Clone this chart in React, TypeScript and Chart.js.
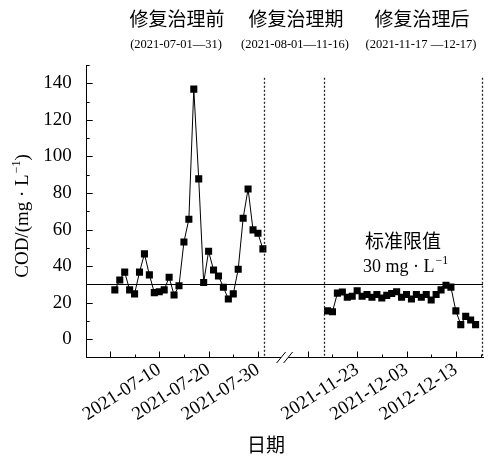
import React, { useEffect, useRef } from 'react';
import { Chart, registerables } from 'chart.js';

Chart.register(...registerables);

// ---- data ----
const julyStart = '2021-07-01';
const lateStart = '2021-11-17';
const julyCOD = [27.0, 32.4, 36.7, 27.0, 24.8, 36.7, 46.7, 35.2, 25.5, 26.0, 27.0, 33.9, 24.2, 29.2, 53.2, 65.6, 136.8, 87.7, 31.0, 48.1, 37.9, 34.6, 28.4, 22.0, 24.8, 38.3, 66.2, 82.2, 59.8, 58.0, 49.4];
const lateCOD = [15.5, 15.0, 25.2, 25.8, 23.0, 23.5, 26.5, 23.5, 24.5, 23.0, 24.5, 22.5, 24.0, 25.0, 26.0, 23.0, 24.5, 22.0, 24.5, 23.0, 24.5, 21.5, 24.5, 27.0, 29.5, 28.5, 15.5, 8.0, 12.5, 10.5, 8.0];
const standardLimit = 30;

const xTickDates = ['2021-07-10', '2021-07-20', '2021-07-30', '2021-11-23', '2021-12-03', '2021-12-13'];
const xTickLabels = ['2021-07-10', '2021-07-20', '2021-07-30', '2021-11-23', '2021-12-03', '2012-12-13'];
const xMajorDates = ['2021-06-30', '2021-07-10', '2021-07-20', '2021-07-30', '2021-11-13', '2021-11-23', '2021-12-03', '2021-12-13'];
const xMinorDates = ['2021-07-05', '2021-07-15', '2021-07-25', '2021-11-18', '2021-11-28', '2021-12-08', '2021-12-18'];
const yTickValues = [0, 20, 40, 60, 80, 100, 120, 140];
const yMinorValues = [10, 30, 50, 70, 90, 110, 130, 150];

const periodTitles = ['修复治理前', '修复治理期', '修复治理后'];
const periodRanges = ['(2021-07-01—31)', '(2021-08-01—11-16)', '(2021-11-17 —12-17)'];

// ---- axis mapping (broken axis) ----
const DAY = 86400000;
const X0 = 44.1;
const XMIN = -4.7;
const XMAX = 75.6;
const BREAK_AT = 35.4;
const t = (iso: string) => Date.parse(iso + 'T00:00:00Z');
function pos(iso: string): number {
  const v = t(iso);
  if (v < t('2021-08-01')) return (v - t('2021-06-30')) / DAY;
  return X0 + (v - t('2021-11-17')) / DAY;
}
function addDays(iso: string, n: number): string {
  return new Date(t(iso) + n * DAY).toISOString().slice(0, 10);
}
const dividers = [pos('2021-07-31') + 0.5, pos('2021-11-17') - 0.5, XMAX];

const FONT = '"Liberation Serif", "Noto Sans CJK SC", serif';

const decor = {
  id: 'decor',
  afterDraw(chart: any) {
    const { ctx, chartArea: ca } = chart;
    const xs = chart.scales.x;
    const ys = chart.scales.y;
    ctx.save();
    ctx.strokeStyle = '#000';
    ctx.lineWidth = 1;
    const vline = (x: number, y1: number, y2: number) => {
      ctx.beginPath(); ctx.moveTo(x, y1); ctx.lineTo(x, y2); ctx.stroke();
    };
    const hline = (y: number, x1: number, x2: number) => {
      ctx.beginPath(); ctx.moveTo(x1, y); ctx.lineTo(x2, y); ctx.stroke();
    };
    // inward ticks
    xMajorDates.forEach(d => { const px = Math.round(xs.getPixelForValue(pos(d))) + 0.5; vline(px, ca.bottom, ca.bottom - 6); });
    xMinorDates.forEach(d => { const px = Math.round(xs.getPixelForValue(pos(d))) + 0.5; vline(px, ca.bottom, ca.bottom - 3); });
    yTickValues.forEach(v => { const py = Math.round(ys.getPixelForValue(v)) + 0.5; hline(py, ca.left, ca.left + 6); });
    yMinorValues.forEach(v => { const py = Math.round(ys.getPixelForValue(v)) + 0.5; hline(py, ca.left, ca.left + 3); });
    // standard line
    const ly = Math.round(ys.getPixelForValue(standardLimit)) + 0.5;
    hline(ly, ca.left, ca.right);
    // dotted dividers
    ctx.setLineDash([2, 2]);
    ctx.lineWidth = 1.3;
    ctx.strokeStyle = '#222';
    dividers.forEach(v => {
      const px = Math.round(xs.getPixelForValue(v)) - 0.5;
      vline(px, ys.getPixelForValue(143), ca.bottom);
    });
    ctx.setLineDash([]);
    // axis break
    const bx = xs.getPixelForValue(BREAK_AT);
    const by = ca.bottom;
    ctx.fillStyle = '#fff';
    ctx.fillRect(bx - 3.5, by - 2, 7, 4);
    ctx.strokeStyle = '#000';
    ctx.lineWidth = 1;
    [-3.5, 3.5].forEach(dx => {
      ctx.beginPath();
      ctx.moveTo(bx + dx - 4.5, by + 5.5);
      ctx.lineTo(bx + dx + 4.5, by - 5.5);
      ctx.stroke();
    });
    // texts
    ctx.fillStyle = '#000';
    ctx.textBaseline = 'middle';
    ctx.textAlign = 'center';
    const titleX = [177, 296, 422];
    ctx.font = `19px ${FONT}`;
    periodTitles.forEach((s, i) => ctx.fillText(s, titleX[i], 21));
    ctx.font = `12.5px ${FONT}`;
    periodRanges.forEach((s, i) => ctx.fillText(s, titleX[i] - 1, 45));
    ctx.font = `19px ${FONT}`;
    ctx.fillText('标准限值', 403, 243);
    ctx.fillText('日期', 266, 447);
    // 30 mg·L-1
    ctx.textAlign = 'left';
    ctx.font = `18px ${FONT}`;
    const main = `${standardLimit} mg · L`;
    ctx.fillText(main, 363, 267);
    const mw = ctx.measureText(main).width;
    ctx.font = `12px ${FONT}`;
    ctx.fillText('−1', 363 + mw + 1, 261);
    // y title
    ctx.save();
    ctx.translate(23, 216);
    ctx.rotate(-Math.PI / 2);
    const p1 = 'COD/(mg · L';
    const p2 = '−1';
    const p3 = ')';
    ctx.font = `19px ${FONT}`;
    const w1 = ctx.measureText(p1).width;
    const w3 = ctx.measureText(p3).width;
    ctx.font = `12px ${FONT}`;
    const w2 = ctx.measureText(p2).width;
    const total = w1 + w2 + w3 + 1;
    let cx = -total / 2;
    ctx.font = `19px ${FONT}`;
    ctx.fillText(p1, cx, 0);
    cx += w1 + 1;
    ctx.font = `12px ${FONT}`;
    ctx.fillText(p2, cx, -6);
    cx += w2;
    ctx.font = `19px ${FONT}`;
    ctx.fillText(p3, cx, 0);
    ctx.restore();
    ctx.restore();
  },
};

export default function App() {
  const ref = useRef<HTMLCanvasElement>(null);
  useEffect(() => {
    if (!ref.current) return;
    const mk = (start: string, vals: number[]) => vals.map((v, i) => ({ x: pos(addDays(start, i)), y: v }));
    const ds = (data: any[]) => ({
      data,
      borderColor: '#000',
      borderWidth: 1,
      pointStyle: 'rect' as const,
      pointRadius: 5,
      pointBackgroundColor: '#000',
      pointBorderColor: '#000',
      pointBorderWidth: 0,
      tension: 0,
    });
    const chart = new Chart(ref.current, {
      type: 'line',
      data: { datasets: [ds(mk(julyStart, julyCOD)), ds(mk(lateStart, lateCOD))] },
      options: {
        animation: false,
        responsive: false,
        devicePixelRatio: 1,
        layout: { padding: { top: 65, right: 3, left: 0, bottom: 0 } },
        plugins: { legend: { display: false }, tooltip: { enabled: false } },
        scales: {
          x: {
            type: 'linear',
            min: XMIN,
            max: XMAX,
            grid: { display: false },
            border: { display: true, color: '#000', width: 1 },
            afterBuildTicks: (s: any) => { s.ticks = xTickDates.map(d => ({ value: pos(d) })); },
            afterFit: (s: any) => { s.height = 99.5; },
            ticks: {
              autoSkip: false,
              maxRotation: 33,
              minRotation: 33,
              padding: -7,
              color: '#000',
              font: { family: FONT, size: 19 },
              callback: (_v: any, i: number) => xTickLabels[i],
            },
          },
          y: {
            min: -10,
            max: 150,
            grid: { display: false },
            border: { display: true, color: '#000', width: 1 },
            afterBuildTicks: (s: any) => { s.ticks = yTickValues.map(v => ({ value: v })); },
            afterFit: (s: any) => { s.width = 86.7; },
            ticks: {
              padding: 7,
              color: '#000',
              font: { family: FONT, size: 19 },
            },
          },
        },
      },
      plugins: [decor],
    });
    return () => chart.destroy();
  }, []);
  return (
    <div style={{ position: 'fixed', left: 0, top: 0, width: 488, height: 457, background: '#fff' }}>
      <canvas ref={ref} width={488} height={457} style={{ width: 488, height: 457, display: 'block' }} />
    </div>
  );
}
